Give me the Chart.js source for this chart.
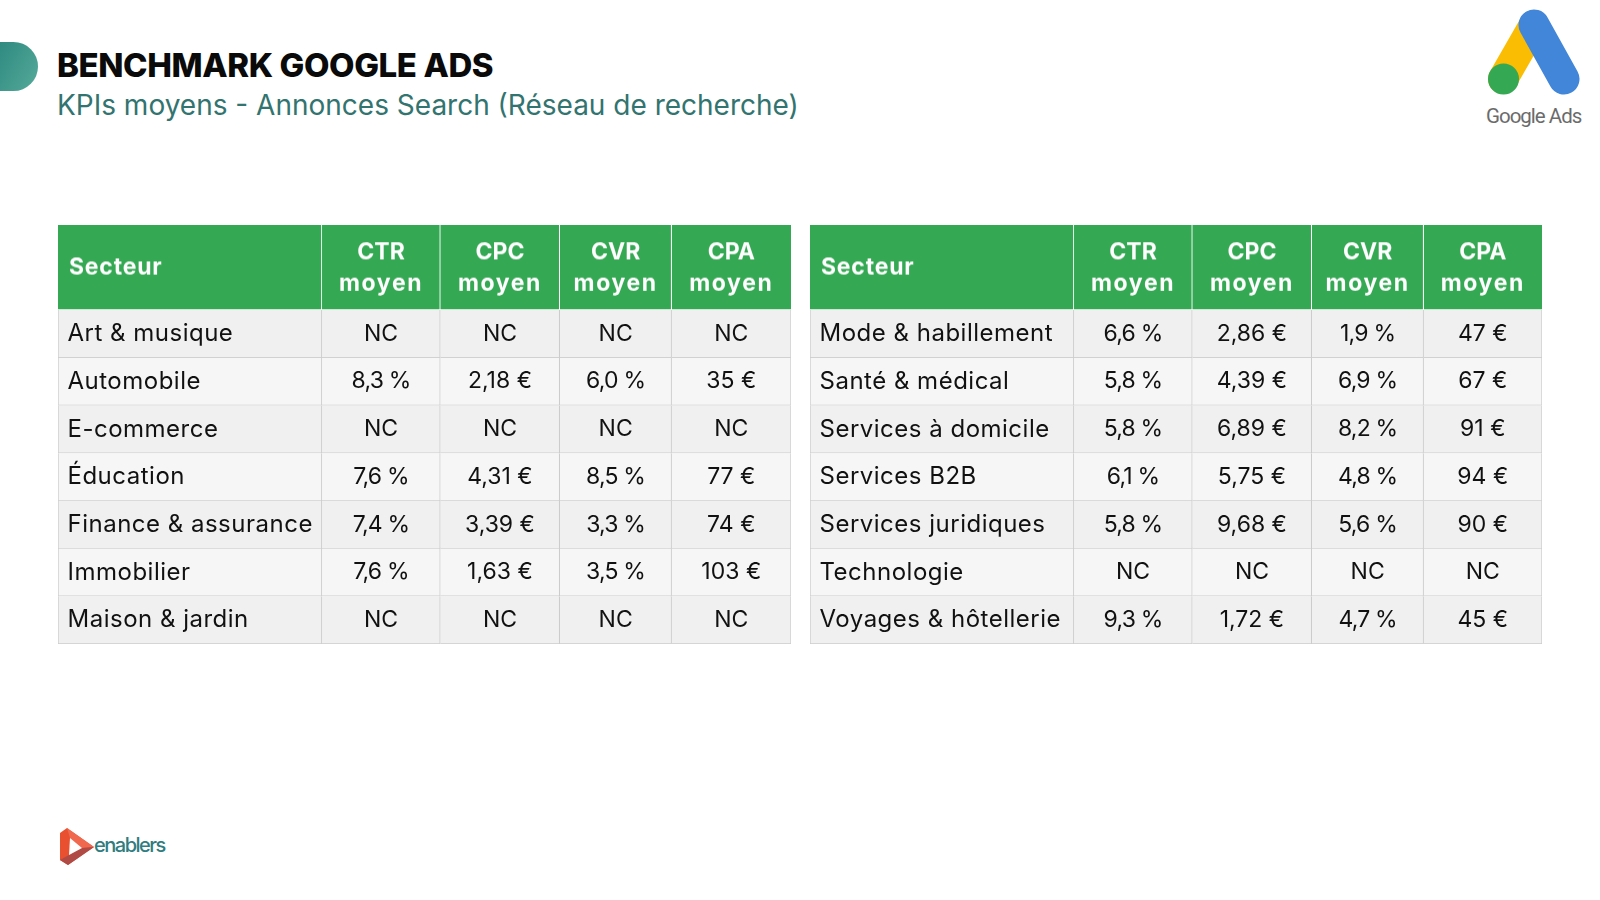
<!DOCTYPE html>
<html lang="fr">
<head>
<meta charset="utf-8">
<title>Benchmark Google Ads</title>
<script src="https://cdn.jsdelivr.net/npm/chart.js@4"></script>
<style>
  html, body { margin: 0; width: 1600px; height: 900px; background: #fff; overflow: hidden; }
  canvas { position: absolute; display: block; }
  .tab { position: absolute; left: 0; top: 42px; width: 38px; height: 49px; border-radius: 0 25px 25px 0;
         background: linear-gradient(120deg, #2f8a80, #55aa9a); }
  h1, h2 { position: absolute; left: 57px; margin: 0; white-space: nowrap; font-family: Inter, sans-serif; }
  h1 { top: 45px; font-size: 33px; font-weight: 800; color: #0a0a0a; letter-spacing: -0.4px; }
  h2 { top: 88px; font-size: 28px; font-weight: 400; color: #32746f; letter-spacing: 0; }
  svg { position: absolute; left: 0; top: 0; }
</style>
</head>
<body>
<div class="tab"></div>
<h1>BENCHMARK GOOGLE ADS</h1>
<h2>KPIs moyens - Annonces Search (Réseau de recherche)</h2>

<svg width="1600" height="900">
  <!-- Google Ads logo -->
  <line x1="1534" y1="25" x2="1503" y2="79" stroke="#fbbc04" stroke-width="30" stroke-linecap="round"/>
  <line x1="1534" y1="25" x2="1564" y2="79" stroke="#4286d9" stroke-width="31" stroke-linecap="round"/>
  <circle cx="1503.5" cy="79" r="15.5" fill="#34a853"/>
  <text x="1486" y="123" font-family="Roboto, sans-serif" font-size="20.5" fill="#6b6b6b" letter-spacing="-1">Google Ads</text>
  <!-- enablers logo -->
  <polygon points="60,833 67,828 94,847 68,865 60,860" fill="#e8502f"/>
  <polygon points="67,828 94,847 82,848 70,838" fill="#f0694f"/>
  <polygon points="60,860 69,855 82,848 94,847 68,865" fill="#b04a45"/>
  <polygon points="70,838 82,848 69,855" fill="#fff"/>
  <text x="94" y="852" font-family="Inter, sans-serif" font-size="20" font-weight="500" fill="#2f7d80" letter-spacing="-1.5">enablers</text>
</svg>

<canvas id="headLeft"></canvas>
<canvas id="bodyLeft"></canvas>
<canvas id="headRight"></canvas>
<canvas id="bodyRight"></canvas>

<script>
'use strict';

// Data
const headers = ['Secteur', 'CTR moyen', 'CPC moyen', 'CVR moyen', 'CPA moyen'];

const sectorsLeft = ['Art & musique', 'Automobile', 'E-commerce', 'Éducation', 'Finance & assurance', 'Immobilier', 'Maison & jardin'];
const ctrLeft = [null, 8.3, null, 7.6, 7.4, 7.6, null];
const cpcLeft = [null, 2.18, null, 4.31, 3.39, 1.63, null];
const cvrLeft = [null, 6.0, null, 8.5, 3.3, 3.5, null];
const cpaLeft = [null, 35, null, 77, 74, 103, null];

const sectorsRight = ['Mode & habillement', 'Santé & médical', 'Services à domicile', 'Services B2B', 'Services juridiques', 'Technologie', 'Voyages & hôtellerie'];
const ctrRight = [6.6, 5.8, 5.8, 6.1, 5.8, null, 9.3];
const cpcRight = [2.86, 4.39, 6.89, 5.75, 9.68, null, 1.72];
const cvrRight = [1.9, 6.9, 8.2, 4.8, 5.6, null, 4.7];
const cpaRight = [47, 67, 91, 94, 90, null, 45];

// Layout
const columnWidthsLeft = [264, 118.5, 119.5, 112, 119.5];
const columnWidthsRight = [264, 118.5, 119.5, 112, 118.5];
const tableLeftX = 57.5;
const tableRightX = 809.5;
const tableTop = 225;
const headHeight = 84.5;
const bodyHeight = 334;

const fontFamily = 'Inter, sans-serif';
const gridColor = '#cccccc';

// Formatting
function formatPercent(v) {
  return v === null ? 'NC' : v.toFixed(1).replace('.', ',') + ' %';
}
function formatEuroCents(v) {
  return v === null ? 'NC' : v.toFixed(2).replace('.', ',') + ' €';
}
function formatEuro(v) {
  return v === null ? 'NC' : v + ' €';
}

// Writes each dataset's texts in the middle of its bars
const cellText = {
  id: 'cellText',
  afterDatasetsDraw(chart) {
    const ctx = chart.ctx;
    ctx.save();
    ctx.textBaseline = 'middle';
    chart.data.datasets.forEach((dataset, i) => {
      chart.getDatasetMeta(i).data.forEach((bar, row) => {
        const lines = dataset.texts[row];
        const left = Math.min(bar.x, bar.base);
        ctx.font = dataset.textFont;
        ctx.fillStyle = dataset.textColor;
        ctx.textAlign = i === 0 ? 'left' : 'center';
        const x = i === 0 ? left + dataset.textPad : (bar.x + bar.base) / 2;
        lines.forEach((line, n) => {
          ctx.letterSpacing = dataset.textSpacing(line) + 'px';
          ctx.fillText(line, x, bar.y + dataset.textShift + (n - (lines.length - 1) / 2) * dataset.lineGap);
        });
      });
    });
    ctx.restore();
  }
};

function place(id, x, y, w, h) {
  const canvas = document.getElementById(id);
  canvas.style.left = x + 'px';
  canvas.style.top = y + 'px';
  canvas.style.width = w + 'px';
  canvas.style.height = h + 'px';
  canvas.width = w;
  canvas.height = h;
  return canvas;
}

function tableChart(canvas, rows, widths, datasets) {
  return new Chart(canvas, {
    type: 'bar',
    data: { labels: rows, datasets: datasets },
    options: {
      indexAxis: 'y',
      responsive: false,
      animation: false,
      devicePixelRatio: 1,
      layout: { padding: 0 },
      plugins: { legend: { display: false }, tooltip: { enabled: false } },
      scales: {
        x: { display: false, stacked: true, min: 0, max: widths.reduce((a, b) => a + b, 0) },
        y: { display: false, stacked: true }
      },
      datasets: { bar: { barPercentage: 1, categoryPercentage: 1 } }
    },
    plugins: [cellText]
  });
}

function drawHead(id, x, widths) {
  const total = widths.reduce((a, b) => a + b, 0);
  const canvas = place(id, x, tableTop, total, headHeight);
  const datasets = headers.map((title, i) => ({
    data: [widths[i]],
    backgroundColor: '#34a853',
    borderColor: '#ffffff',
    borderWidth: { top: 0, left: 0, bottom: 1, right: i === headers.length - 1 ? 0 : 1 },
    borderSkipped: false,
    texts: [i === 0 ? [title] : title.split(' ')],
    textFont: '700 23px ' + fontFamily,
    textColor: '#ffffff',
    // lower case words are wider in the original lettering
    textSpacing: line => line === line.toUpperCase() ? 0 : (line === 'moyen' ? 1.6 : 0.8),
    textShift: 0.5,
    textPad: 11,
    lineGap: 31.5
  }));
  return tableChart(canvas, ['Secteur'], widths, datasets);
}

function drawBody(id, x, widths, sectors, ctr, cpc, cvr, cpa) {
  const total = widths.reduce((a, b) => a + b, 0);
  const canvas = place(id, x, tableTop + headHeight, total, bodyHeight);
  const columns = [sectors, ctr.map(formatPercent), cpc.map(formatEuroCents), cvr.map(formatPercent), cpa.map(formatEuro)];
  const datasets = columns.map((texts, i) => ({
    data: texts.map(() => widths[i]),
    backgroundColor: texts.map((t, row) => row % 2 === 0 ? '#f0f0f0' : '#f6f6f6'),
    borderColor: gridColor,
    borderWidth: texts.map(() => ({ top: 0, left: i === 0 ? 1 : 0, bottom: 1, right: 1 })),
    borderSkipped: false,
    texts: texts.map(t => [t]),
    textFont: (i === 0 ? '400 24px ' : '400 23px ') + fontFamily,
    textColor: '#111111',
    textSpacing: line => i === 0 ? 0.5 : (line.endsWith('%') ? -0.8 : 0),
    textShift: 0,
    textPad: 9.5,
    lineGap: 0
  }));
  return tableChart(canvas, sectors, widths, datasets);
}

drawHead('headLeft', tableLeftX, columnWidthsLeft);
drawBody('bodyLeft', tableLeftX, columnWidthsLeft, sectorsLeft, ctrLeft, cpcLeft, cvrLeft, cpaLeft);
drawHead('headRight', tableRightX, columnWidthsRight);
drawBody('bodyRight', tableRightX, columnWidthsRight, sectorsRight, ctrRight, cpcRight, cvrRight, cpaRight);
</script>
</body>
</html>
